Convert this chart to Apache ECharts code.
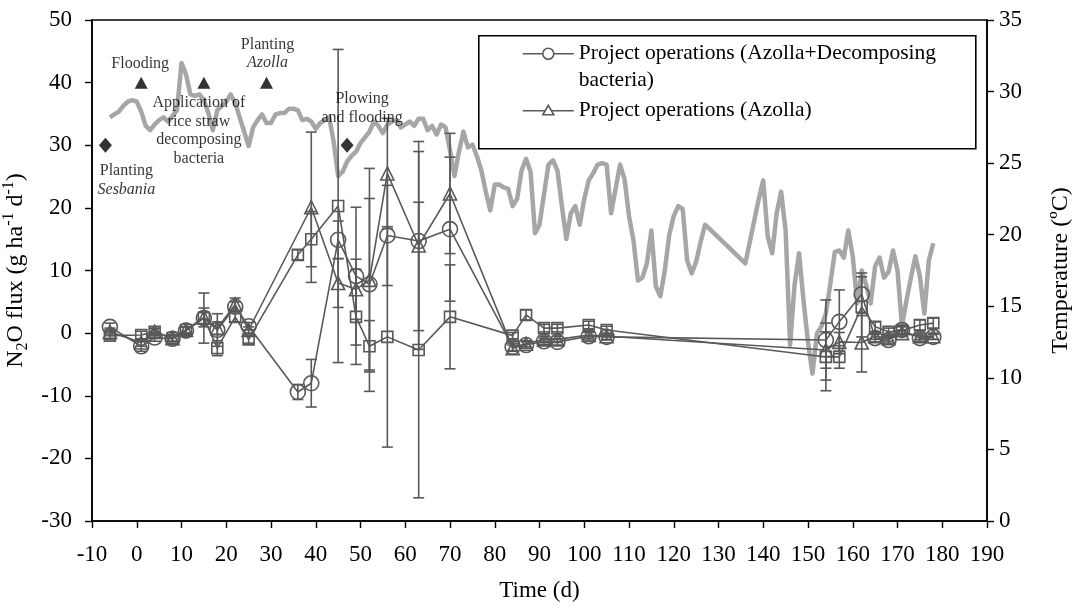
<!DOCTYPE html>
<html>
<head>
<meta charset="utf-8">
<script src="https://cdn.jsdelivr.net/npm/echarts@6/dist/echarts.min.js"></script>
<style>
  html, body { margin: 0; padding: 0; background: #fff; }
  #chart { width: 1081px; height: 608px; }
</style>
</head>
<body>
<div id="chart"></div>
<script>
// Sampling days for the N2O flux measurements
const days = [-6, 1, 4, 8, 11, 15, 18, 22, 25, 36, 39, 45, 49, 52, 56, 63, 70, 84, 87, 91, 94, 101, 105, 154, 157, 162, 165, 168, 171, 175, 178];

// N2O flux (g ha-1 d-1), means and error half-widths
const fluxAzollaBacteria = [1.0, -2.1, -0.7, -0.9, 0.4, 2.4, 0.5, 4.2, 1.1, -9.4, -8.0, 14.9, 9.1, 7.8, 15.6, 14.7, 16.6, -2.2, -1.9, -1.3, -1.4, -0.5, -0.6, -1.1, 1.8, 6.2, -0.8, -1.1, 0.5, -0.8, -0.6];
const errAzollaBacteria  = [0.6, 0.8, 0.6, 0.5, 0.6, 4.0, 2.6, 0.8, 0.6, 1.2, 3.8, 3.0, 11.0, 13.7, 8.0, 14.3, 11.5, 0.6, 0.5, 0.5, 0.5, 0.6, 0.5, 6.4, 5.1, 3.4, 0.6, 0.5, 0.6, 0.5, 0.4];

const fluxAzolla = [0.2, -1.5, 0.2, -0.8, 0.5, 2.5, 0.8, 4.6, 0.5, null, 20.1, 8.0, 7.0, 8.5, 25.5, 14.0, 22.3, -2.4, -1.7, -1.0, -1.0, -0.3, -0.5, -2.7, -1.4, -1.5, -0.5, -0.8, 0.0, -0.5, -0.5];
const errAzolla  = [0.6, 0.6, 0.5, 0.5, 0.5, 1.5, 1.0, 1.0, 0.5, null, 12.0, 3.9, 4.8, 17.8, 8.8, 16.6, 9.6, 0.5, 0.5, 0.5, 0.5, 0.5, 0.5, 2.9, 1.5, 4.7, 0.5, 0.5, 0.5, 0.5, 0.5];

const fluxThird = [-0.4, -0.3, 0.2, -0.8, 0.5, 2.4, -2.4, 2.6, -1.0, 12.5, 15.0, 20.3, 2.6, -2.1, -0.6, -2.7, 2.6, -0.4, 2.9, 0.8, 0.8, 1.3, 0.5, -3.8, -3.8, 4.2, 1.0, 0.2, 0.4, 1.3, 1.6];
const errThird  = [0.6, 0.6, 0.6, 0.5, 0.5, 1.0, 1.2, 0.8, 0.6, 0.8, 4.4, 25.0, 7.6, 4.1, 17.6, 23.6, 8.3, 0.5, 0.8, 0.6, 0.6, 0.6, 0.6, 5.4, 1.8, 4.8, 0.8, 0.6, 0.6, 0.8, 0.8];

// Daily air temperature (ºC)
const tempDays = [-6,-5,-4,-3,-2,-1,0,1,2,3,4,5,6,7,8,9,10,11,12,13,14,15,16,17,18,19,20,21,22,23,24,25,26,27,28,29,30,31,32,33,34,35,36,37,38,39,40,41,42,43,44,45,46,47,48,49,50,51,52,53,54,55,56,57,58,59,60,61,62,63,64,65,66,67,68,69,70,71,72,73,74,75,76,77,78,79,80,81,82,83,84,85,86,87,88,89,90,91,92,93,94,95,96,97,98,99,100,101,102,103,104,105,106,107,108,109,110,111,112,113,114,115,116,117,118,119,120,121,122,123,124,125,126,127,136,137,138,139,140,141,142,143,144,145,146,147,148,149,150,151,152,153,154,155,156,157,158,159,160,161,162,163,164,165,166,167,168,169,170,171,172,173,174,175,176,177,178];
const tempValues = [28.2,28.4,28.6,29.0,29.3,29.4,29.3,28.6,27.6,27.3,27.7,28.0,28.2,27.9,28.3,28.7,32.0,31.2,29.8,29.7,29.8,29.4,28.5,27.3,28.7,29.0,29.3,29.8,29.2,28.2,27.2,26.2,27.5,28.0,28.4,27.8,27.8,28.4,28.5,28.5,28.8,28.8,28.7,28.0,28.1,27.9,27.4,27.8,28.0,28.2,26.5,24.1,24.4,25.1,25.5,25.8,26.4,26.8,27.2,27.9,27.6,27.1,27.7,27.9,28.0,27.5,27.7,27.9,27.6,28.1,28.1,27.3,27.6,27.0,27.7,27.5,25.9,24.1,25.8,27.2,26.1,26.3,25.5,24.5,23.0,21.7,23.5,23.5,23.3,23.2,22.0,22.5,24.5,25.3,24.4,20.1,20.7,22.8,24.9,25.2,24.5,22.0,19.7,21.5,22.0,20.7,22.5,23.8,24.3,24.9,25.0,24.9,21.5,23.2,24.9,23.9,21.3,19.6,16.8,17.0,18.0,20.3,16.4,15.7,17.5,20.0,21.3,22.0,21.8,18.2,17.3,18.1,19.5,20.7,18.0,19.5,21.0,22.5,23.8,19.9,18.7,21.5,23.0,20.3,12.3,16.5,18.7,15.4,12.5,10.3,13.1,13.6,14.5,16.6,18.8,18.9,18.4,20.3,18.5,15.2,17.5,16.5,15.2,17.8,18.4,17.0,17.4,18.9,17.5,13.6,15.4,17.0,18.5,17.1,14.5,18.2,19.4];

// Field operations, placed on the flux scale
const eventDays   = [-7, 1, 15, 29, 47];
const eventLevels = [30, 40, 40, 40, 30];
const eventLabels = ['Planting\n{i|Sesbania}', 'Flooding', 'Application of\nrice straw\ndecomposing\nbacteria', 'Planting\n{i|Azolla}', 'Plowing\nand flooding'];

// Axis ranges and ticks
const xTicks = { min: -10, max: 190, interval: 10 };
const fluxTicks = { min: -30, max: 50, interval: 10 };
const tempTicks = { min: 0, max: 35, interval: 5 };

const seriesNames = ['Project operations (Azolla+Decomposing\nbacteria)', 'Project operations (Azolla)'];

const FONT = '"Liberation Serif", "Times New Roman", serif';
const DARK = '#595959';
const TEMP = '#a6a6a6';

function pairs(xs, ys) {
  return xs.map((x, i) => [x, ys[i]]);
}
function errPairs(xs, ys, es) {
  const out = [];
  xs.forEach((x, i) => {
    if (ys[i] == null || es[i] == null) return;
    out.push([x, ys[i] - es[i], ys[i] + es[i]]);
  });
  return out;
}

function errorBarSeries(data) {
  return {
    type: 'custom',
    yAxisIndex: 0,
    z: 3,
    silent: true,
    data: data,
    renderItem: function (params, api) {
      const x = api.value(0);
      const lo = api.coord([x, api.value(1)]);
      const hi = api.coord([x, api.value(2)]);
      const half = 5.5;
      const style = { stroke: DARK, lineWidth: 1.6 };
      return {
        type: 'group',
        children: [
          { type: 'line', shape: { x1: lo[0], y1: lo[1], x2: hi[0], y2: hi[1] }, style: style },
          { type: 'line', shape: { x1: lo[0] - half, y1: lo[1], x2: lo[0] + half, y2: lo[1] }, style: style },
          { type: 'line', shape: { x1: hi[0] - half, y1: hi[1], x2: hi[0] + half, y2: hi[1] }, style: style }
        ]
      };
    }
  };
}

function fluxSeries(name, ys, symbol, size) {
  return {
    name: name,
    type: 'line',
    yAxisIndex: 0,
    z: 4,
    data: pairs(days, ys),
    connectNulls: true,
    symbol: symbol,
    symbolSize: size,
    showAllSymbol: true,
    lineStyle: { color: DARK, width: 1.6 },
    itemStyle: { color: 'rgba(255,255,255,0)', borderColor: DARK, borderWidth: 1.6 },
    emphasis: { disabled: true }
  };
}

const eventData = eventDays.map((d, i) => {
  const isDiamond = eventLevels[i] === 30;
  const offsets = [[21, 35], [-1, -19], [-5, 48], [1, -29], [15, -37]];
  return {
    value: [d, eventLevels[i]],
    symbol: isDiamond ? 'diamond' : 'triangle',
    symbolSize: isDiamond ? [13, 15] : [13, 12],
    label: {
      show: true,
      position: 'inside',
      offset: offsets[i],
      formatter: eventLabels[i],
      align: 'center',
      verticalAlign: 'middle',
      color: '#000',
      fontFamily: FONT,
      fontSize: 16,
      lineHeight: 18.5,
      rich: { i: { fontStyle: 'italic', fontFamily: FONT, fontSize: 16, lineHeight: 18.5, color: '#000' } }
    }
  };
});

const chart = echarts.init(document.getElementById('chart'), null, { renderer: 'canvas' });

const axisLine = { show: true, onZero: false, lineStyle: { color: '#000', width: 1.6 } };
const axisTick = { show: true, inside: false, length: 7, lineStyle: { color: '#000', width: 1.4 } };
const axisLabel = { color: '#000', fontFamily: FONT, fontSize: 23 };

const option = {
  animation: false,
  backgroundColor: '#fff',
  grid: {
    left: 92, right: 94, top: 20, bottom: 87,
    containLabel: false, outerBoundsMode: 'none',
    show: true, borderColor: '#000', borderWidth: 1.6, backgroundColor: 'transparent'
  },
  xAxis: {
    type: 'value',
    min: xTicks.min, max: xTicks.max, interval: xTicks.interval,
    name: 'Time (d)',
    nameLocation: 'middle',
    nameGap: 58,
    nameTextStyle: { color: '#000', fontFamily: FONT, fontSize: 23 },
    axisLine: axisLine, axisTick: axisTick,
    axisLabel: Object.assign({ margin: 22 }, axisLabel),
    splitLine: { show: false }
  },
  yAxis: [
    {
      type: 'value',
      min: fluxTicks.min, max: fluxTicks.max, interval: fluxTicks.interval,
      position: 'left',
      name: 'N{sub|2}O flux (g ha{sup|-1} d{sup|-1})',
      nameLocation: 'middle',
      nameGap: 60,
      nameTextStyle: {
        color: '#000', fontFamily: FONT, fontSize: 24, lineHeight: 30,
        rich: {
          sub: { fontFamily: FONT, fontSize: 16, lineHeight: 16, verticalAlign: 'bottom', color: '#000' },
          sup: { fontFamily: FONT, fontSize: 16, lineHeight: 16, verticalAlign: 'top', color: '#000' }
        }
      },
      axisLine: axisLine, axisTick: axisTick,
      axisLabel: Object.assign({ margin: 20 }, axisLabel),
      splitLine: { show: false }
    },
    {
      type: 'value',
      min: tempTicks.min, max: tempTicks.max, interval: tempTicks.interval,
      position: 'right',
      name: 'Temperature (ºC)',
      nameLocation: 'middle',
      nameGap: 62,
      nameRotate: 90,
      nameTextStyle: { color: '#000', fontFamily: FONT, fontSize: 24 },
      axisLine: axisLine, axisTick: axisTick,
      axisLabel: Object.assign({ margin: 12 }, axisLabel),
      splitLine: { show: false }
    }
  ],
  series: [
    {
      name: 'Temperature',
      type: 'line',
      yAxisIndex: 1,
      z: 1,
      data: pairs(tempDays, tempValues),
      symbol: 'none',
      lineStyle: { color: TEMP, width: 4.5, join: 'round' },
      emphasis: { disabled: true },
      silent: true
    },
    errorBarSeries(errPairs(days, fluxThird, errThird)),
    errorBarSeries(errPairs(days, fluxAzolla, errAzolla)),
    errorBarSeries(errPairs(days, fluxAzollaBacteria, errAzollaBacteria)),
    fluxSeries('Series 3', fluxThird, 'rect', 11),
    fluxSeries(seriesNames[1], fluxAzolla, 'triangle', 13),
    fluxSeries(seriesNames[0], fluxAzollaBacteria, 'circle', 15),
    {
      name: 'Events',
      type: 'scatter',
      yAxisIndex: 0,
      z: 5,
      itemStyle: { color: '#000' },
      data: eventData,
      emphasis: { disabled: true }
    }
  ],
  graphic: [
    {
      type: 'group', left: 478, top: 35, z: 20,
      children: [
        { type: 'rect', shape: { x: 0, y: 0, width: 497, height: 113 }, style: { fill: '#fff', stroke: '#000', lineWidth: 1.6 } },
        { type: 'line', shape: { x1: 44, y1: 18, x2: 95, y2: 18 }, style: { stroke: DARK, lineWidth: 1.6 } },
        { type: 'circle', shape: { cx: 69.5, cy: 18, r: 5.5 }, style: { fill: '#fff', stroke: DARK, lineWidth: 1.6 } },
        { type: 'text', x: 100, y: 4.5, style: { text: seriesNames[0], fill: '#000', font: '21.5px ' + FONT, lineHeight: 27 } },
        { type: 'line', shape: { x1: 44, y1: 75, x2: 95, y2: 75 }, style: { stroke: DARK, lineWidth: 1.6 } },
        { type: 'polygon', shape: { points: [[69.5, 69.5], [75, 79], [64, 79]] }, style: { fill: '#fff', stroke: DARK, lineWidth: 1.6 } },
        { type: 'text', x: 100, y: 61.5, style: { text: seriesNames[1], fill: '#000', font: '21.5px ' + FONT, lineHeight: 27 } }
      ]
    }
  ]
};

chart.setOption(option);
</script>
</body>
</html>
